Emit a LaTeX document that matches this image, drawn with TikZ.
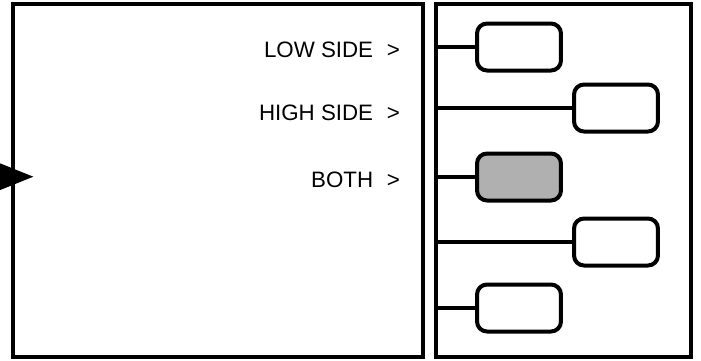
\documentclass[tikz,border=0pt]{standalone}
\usepackage{fontspec}
\setmainfont{Liberation Sans}
\definecolor{slotgray}{RGB}{176,176,176}
\begin{document}
\begin{tikzpicture}[x=0.02cm,y=-0.02cm,line width=0.08cm,
 panel/.style={draw,outer sep=0pt,minimum height=7.06cm},
 slot/.style={draw,rounded corners=0.2cm,minimum width=1.68cm,minimum height=0.94cm,outer sep=0pt},
 side/.style={anchor=base east,inner sep=0pt,font=\fontsize{12.7}{14}\selectfont}]
 \useasboundingbox (0,0) rectangle (701,360);
 \node[panel,minimum width=8.2cm] (menu) at (218,180.5) {};
 \node[panel,minimum width=5.1cm] (tree) at (563.5,180.5) {};
 \node[side] (low) at (402,57) {LOW SIDE\hspace{0.62em}>};
 \node[side] (high) at (402,120) {HIGH SIDE\hspace{0.62em}>};
 \node[side] (both) at (402,187) {BOTH\hspace{0.62em}>};
 \fill (-10,159.3)--(33.3,176.7)--(-10,194.1)--cycle;
 \node[slot] (s1) at (519,47) {};
 \node[slot] (s2) at (616,108) {};
 \node[slot,fill=slotgray] (s3) at (519,177) {};
 \node[slot] (s4) at (616,242) {};
 \node[slot] (s5) at (519,308) {};
 \foreach \s in {s1,s2,s3,s4,s5}
  \draw (\s.west) -- (\s.west -| tree.west);
\end{tikzpicture}
\end{document}
